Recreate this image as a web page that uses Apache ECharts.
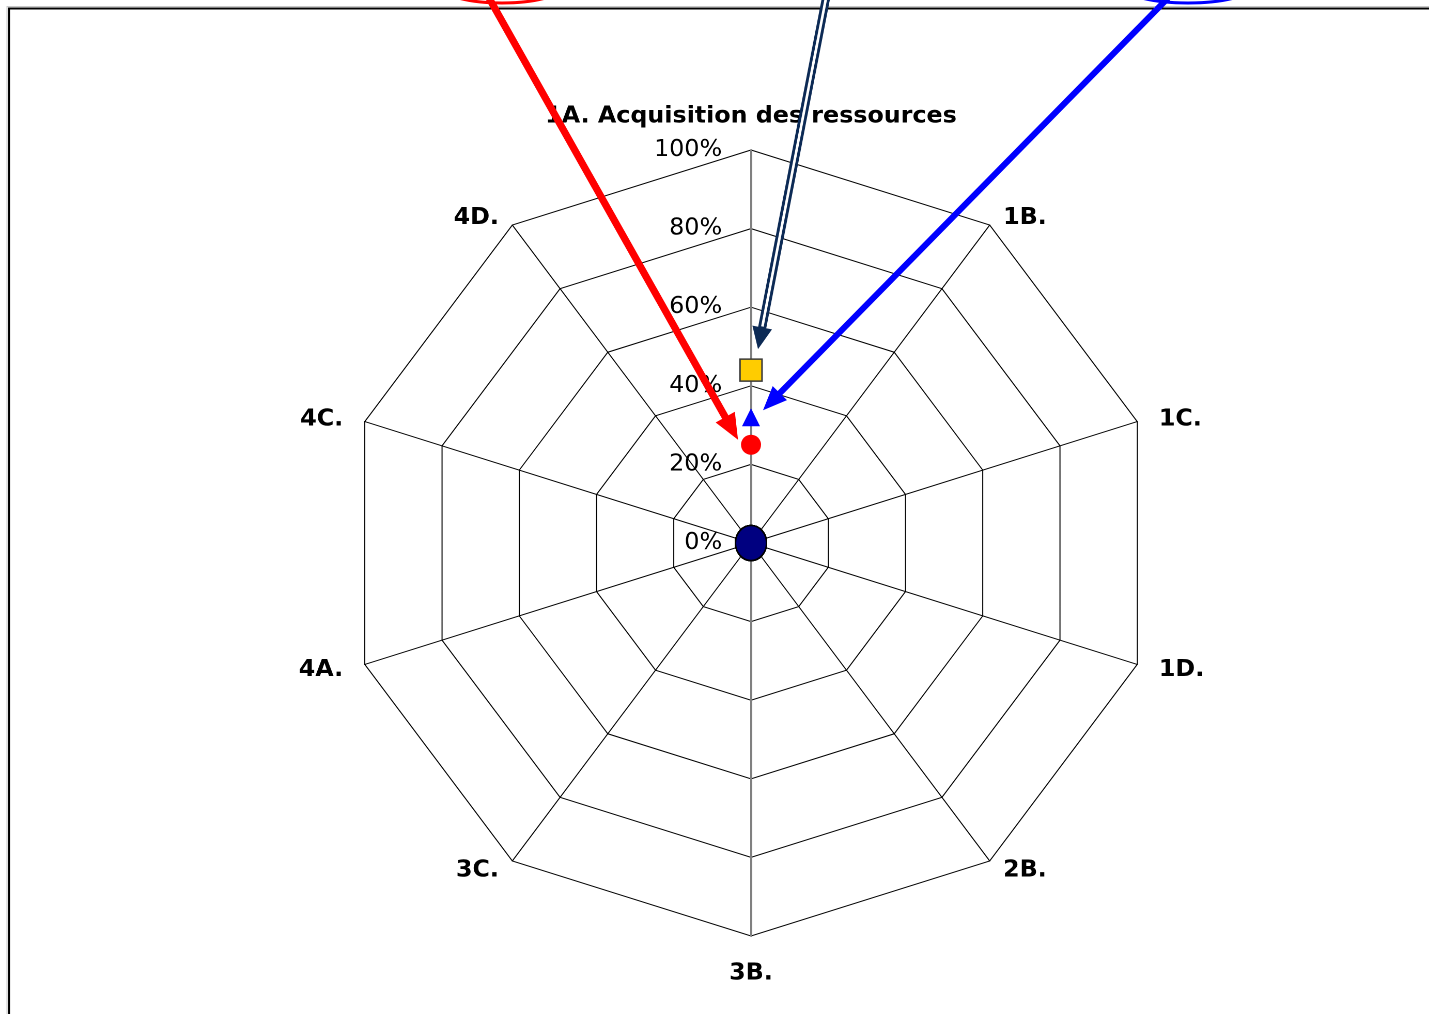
<!DOCTYPE html>
<html>
<head>
<meta charset="utf-8">
<script src="https://cdn.jsdelivr.net/npm/echarts@6/dist/echarts.min.js"></script>
<style>
  html, body { margin: 0; padding: 0; background: #ffffff; overflow: hidden; }
  #page { width: 1429px; height: 1014px; overflow: hidden; position: relative; }
  /* the web is a little wider than tall: the drawing is stretched horizontally */
  #chart { width: 1383px; height: 1014px; transform: scaleX(1.0333); transform-origin: 0 0; }
</style>
</head>
<body>
<div id="page"><div id="chart"></div></div>
<script>
// Axes of the radar, read clockwise from the top
const categories = ['1A. Acquisition des ressources', '1B.', '1C.', '1D.', '2B.', '3B.', '3C.', '4A.', '4C.', '4D.'];

// Values (%) per axis, same order as categories
const valeursCarre    = [44, 0, 0, 0, 0, 0, 0, 0, 0, 0];
const valeursTriangle = [32, 0, 0, 0, 0, 0, 0, 0, 0, 0];
const valeursRond     = [25, 0, 0, 0, 0, 0, 0, 0, 0, 0];
const valeursBase     = [0, 0, 0, 0, 0, 0, 0, 0, 0, 0];

// Scale of every axis
const echelleMin = 0;
const echelleMax = 100;
const echelleDivisions = 5;

// Horizontal stretch of the drawing and geometry of the radar (screen pixels)
const S = 1.0333;
const X = x => x / S;
const CX = 751, CY = 543, R = 393;

// ECharts places radar axes counter-clockwise: reorder so the reading order runs clockwise
const ordre = [0].concat(categories.slice(1).map((_, i) => categories.length - 1 - i));
const reordonner = arr => ordre.map(i => arr[i]);

// Vertical placement class of each axis name
const classeNom = {
  '1B.': 'b22', '4D.': 'b22',
  '1C.': 'b10', '4C.': 'b10',
  '1D.': 'h2',  '4A.': 'h2',
  '2B.': 'h16', '3C.': 'h16',
  '3B.': 'b4'
};
const axeVertical = ['1A. Acquisition des ressources', '3B.'];

const indicator = ordre.map(i => {
  const nom = categories[i];
  const ind = { name: nom, min: echelleMin, max: echelleMax };
  if (axeVertical.indexOf(nom) >= 0) {
    ind.axisLine = { show: true, lineStyle: { color: '#808080', width: 2 } };
  }
  if (i === 0) {
    ind.axisLabel = {
      show: true,
      formatter: '{value}%',
      margin: 28,
      color: '#000',
      fontFamily: 'DejaVu Sans',
      fontSize: 23,
      showMinLabel: true,
      showMaxLabel: true
    };
  }
  return ind;
});

const policeNom = { color: '#000000', fontFamily: 'DejaVu Sans', fontWeight: 'bold', fontSize: 23 };
const richNoms = {
  n:   Object.assign({}, policeNom),
  b22: Object.assign({ padding: [22, 0, 0, 0] }, policeNom),
  b10: Object.assign({ padding: [10, 0, 0, 0] }, policeNom),
  b4:  Object.assign({ padding: [4, 0, 0, 0] }, policeNom),
  h2:  Object.assign({ padding: [0, 0, 2, 0] }, policeNom),
  h16: Object.assign({ padding: [0, 0, 16, 0] }, policeNom)
};

function serie(nom, valeurs, symbole, taille, couleur, bordure, epaisseur) {
  return {
    type: 'radar',
    name: nom,
    silent: true,
    symbol: symbole,
    symbolSize: taille,
    lineStyle: { opacity: 0, width: 0 },
    itemStyle: { color: couleur, borderColor: bordure, borderWidth: epaisseur },
    emphasis: { disabled: true },
    data: [{ value: reordonner(valeurs) }]
  };
}

// Arrow (shaft + head) from a start point to a tip, given in screen pixels
function fleche(x1, y1, x2, y2, couleur, largeur, tete, ouverture, double) {
  const dx = x2 - x1, dy = y2 - y1;
  const L = Math.sqrt(dx * dx + dy * dy);
  const ux = dx / L, uy = dy / L;
  const bx = x2 - ux * tete, by = y2 - uy * tete;
  const px = -uy, py = ux;
  const els = [{
    type: 'line', z: 100, silent: true,
    shape: { x1: X(x1), y1: y1, x2: X(bx + ux * 2), y2: by + uy * 2 },
    style: { stroke: couleur, lineWidth: largeur, lineCap: 'butt' }
  }];
  if (double) {
    els.push({
      type: 'line', z: 101, silent: true,
      shape: { x1: X(x1), y1: y1, x2: X(bx - ux), y2: by - uy },
      style: { stroke: '#ffffff', lineWidth: double, lineCap: 'butt' }
    });
  }
  els.push({
    type: 'polygon', z: 102, silent: true,
    shape: { points: [
      [X(x2), y2],
      [X(bx + px * ouverture / 2), by + py * ouverture / 2],
      [X(bx - px * ouverture / 2), by - py * ouverture / 2]
    ] },
    style: { fill: couleur }
  });
  return els;
}

// Screen position of a value on the top axis
const surAxeHaut = v => [CX, CY - (v - echelleMin) / (echelleMax - echelleMin) * R];

const pRond = surAxeHaut(valeursRond[0]);
const pCarre = surAxeHaut(valeursCarre[0]);
const pTriangle = surAxeHaut(valeursTriangle[0]);

const graphics = [
  { type: 'rect', z: 1, silent: true, shape: { x: X(7), y: 6.5, width: 1500, height: 1100 },
    style: { fill: 'none', stroke: '#c8c8c8', lineWidth: 1 } },
  { type: 'rect', z: 1, silent: true, shape: { x: X(9), y: 8.5, width: 1500, height: 1100 },
    style: { fill: 'none', stroke: '#000000', lineWidth: 2 } },
  { type: 'ellipse', z: 100, silent: true, shape: { cx: X(502), cy: -17, rx: X(66), ry: 20 },
    style: { fill: 'none', stroke: '#ff0000', lineWidth: 3 } },
  { type: 'ellipse', z: 100, silent: true, shape: { cx: X(1188), cy: -17, rx: X(70), ry: 20 },
    style: { fill: 'none', stroke: '#0000ff', lineWidth: 3 } }
]
  .concat(fleche(489, -2, pRond[0] - 13, pRond[1] - 5, '#ff0000', 7, 26, 22))
  .concat(fleche(826, -2, pCarre[0] + 7, pCarre[1] - 21, '#0c2a55', 8, 22, 20, 2.5))
  .concat(fleche(1168, -2, pTriangle[0] + 12, pTriangle[1] - 7, '#0000ff', 6, 24, 20));

const option = {
  animation: false,
  backgroundColor: '#ffffff',
  radar: {
    center: [X(CX), CY],
    radius: R,
    startAngle: 90,
    shape: 'polygon',
    splitNumber: echelleDivisions,
    indicator: indicator,
    axisName: Object.assign({
      formatter: nom => '{' + (classeNom[nom] || 'n') + '|' + nom + '}',
      rich: richNoms
    }, policeNom),
    nameGap: 22,
    axisLine: { show: true, lineStyle: { color: '#000000', width: 1 } },
    axisTick: { show: false },
    axisLabel: { show: false },
    splitLine: { show: true, lineStyle: { color: '#000000', width: 1 } },
    splitArea: { show: false }
  },
  series: [
    serie('Carré', valeursCarre, 'rect', [X(22), 22], '#ffcc00', '#3a3a3a', 1.5),
    serie('Triangle', valeursTriangle, 'triangle', [X(18), 18], '#0000ff', '#0000ff', 0),
    serie('Rond', valeursRond, 'circle', [X(20), 20], '#ff0000', '#ff0000', 0),
    serie('Base', valeursBase, 'circle', [X(31), 35], '#000080', '#000000', 1.5)
  ],
  graphic: graphics
};

const chart = echarts.init(document.getElementById('chart'), null, { renderer: 'canvas', devicePixelRatio: 2 });
chart.setOption(option);
</script>
</body>
</html>
